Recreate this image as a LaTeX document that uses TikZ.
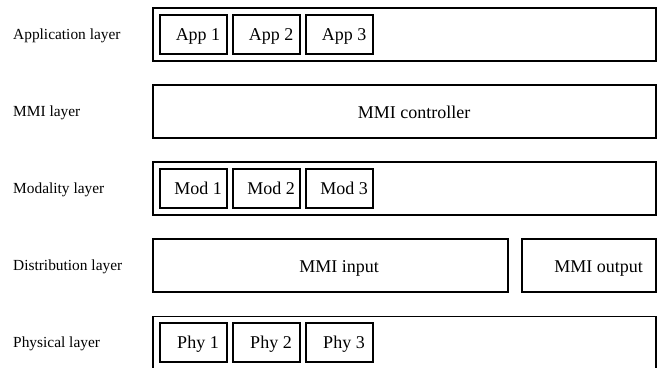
\documentclass[tikz,border=0pt]{standalone}
\usepackage{fontspec}
\setmainfont{Liberation Serif}
\begin{document}
\begin{tikzpicture}[x=1bp,y=-1bp,
  outerbox/.style={draw=black,line width=1.1bp,rectangle,inner sep=0pt,minimum height=53bp},
  innerbox/.style={draw=black,line width=1.5bp,rectangle,inner sep=0pt,minimum width=67bp,minimum height=39bp},
  boxtext/.style={inner sep=0pt,anchor=base,font=\fontsize{18bp}{20bp}\selectfont},
  lbl/.style={inner sep=0pt,anchor=base west,font=\fontsize{15.4bp}{18bp}\selectfont}]
\useasboundingbox (0,0) rectangle (660,367);
\clip (0,0) rectangle (660,367);
% layer labels
\node[lbl] (lapp) at (13,39.3) {Application layer};
\node[lbl] (lmmi) at (13,116.3) {MMI layer};
\node[lbl] (lmod) at (13,193.3) {Modality layer};
\node[lbl] (ldis) at (13,270.3) {Distribution layer};
\node[lbl] (lphy) at (13,347.3) {Physical layer};
% outer boxes
\node[outerbox,minimum width=503bp] (app) at (404.5,34.5) {};
\node[outerbox,minimum width=503bp] (mmi) at (404.5,111.5) {};
\node[outerbox,minimum width=503bp] (mod) at (404.5,188.5) {};
\node[outerbox,minimum width=355bp] (min) at (330.5,265.5) {};
\node[outerbox,minimum width=134bp] (mout) at (589,265.5) {};
\node[outerbox,minimum width=503bp] (phy) at (404.5,343) {};
\node[boxtext] (tmmi) at (414,118) {MMI controller};
\node[boxtext] (tmin) at (339,272) {MMI input};
\node[boxtext] (tmout) at (598.5,272) {MMI output};
% inner boxes
\foreach \r/\y/\nm in {a/34.5/App, m/188.5/Mod, p/342.5/Phy}{
  \foreach \i/\x in {1/193.5,2/266.5,3/339.5}{
    \node[innerbox] (\r\i) at (\x,\y) {};
    \node[boxtext] (\r\i t) at ([xshift=4.5bp,yshift=-6bp]\r\i.center) {\nm\ \i};
  }
}
\end{tikzpicture}
\end{document}
